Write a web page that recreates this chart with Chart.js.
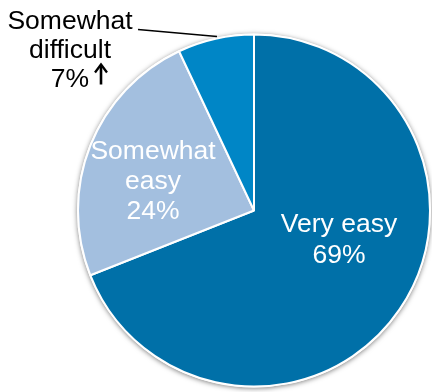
<!DOCTYPE html>
<html>
<head>
<meta charset="utf-8">
<script src="https://cdn.jsdelivr.net/npm/chart.js@4.4.1/dist/chart.umd.min.js"></script>
<style>
  html, body { margin: 0; padding: 0; background: #fff; }
  canvas { display: block; }
</style>
</head>
<body>
<canvas id="pie" width="432" height="392"></canvas>
<script>
// survey answers, clockwise from 12 o'clock
const categories = [['Very easy'], ['Somewhat', 'easy'], ['Somewhat', 'difficult']];
const shares = [69, 24, 7];
const colors = ['#0070a8', '#a3bfdf', '#0086c6'];

const FONT = '26.5px "Liberation Sans", Arial, sans-serif';

// soft drop shadow behind the whole pie
const pieShadow = {
  id: 'pieShadow',
  beforeDatasetsDraw(chart) {
    const arc = chart.getDatasetMeta(0).data[0];
    if (!arc) return;
    const ctx = chart.ctx;
    ctx.save();
    ctx.shadowColor = 'rgba(0,0,0,0.5)';
    ctx.shadowBlur = 5;
    ctx.shadowOffsetX = 0;
    ctx.shadowOffsetY = 1;
    ctx.fillStyle = '#fff';
    ctx.beginPath();
    ctx.arc(arc.x, arc.y, arc.outerRadius + 1, 0, Math.PI * 2);
    ctx.fill();
    ctx.restore();
  }
};

// slice labels: offset from pie centre, line height, colour
const labelSpots = [
  { dx: 85, dy: 14, lh: 31, color: '#fff' },
  { dx: -101, dy: -59, lh: 30, color: '#fff' },
  { dx: -184, dy: -189, lh: 29, color: '#000' }
];

const sliceLabels = {
  id: 'sliceLabels',
  afterDatasetsDraw(chart) {
    const meta = chart.getDatasetMeta(0);
    const ctx = chart.ctx;
    const cx = meta.data[0].x, cy = meta.data[0].y;
    ctx.save();
    ctx.font = FONT;
    ctx.textAlign = 'center';
    ctx.textBaseline = 'middle';
    shares.forEach((v, i) => {
      const s = labelSpots[i];
      const lines = categories[i].concat([v + '%']);
      ctx.fillStyle = s.color;
      lines.forEach((t, j) => {
        ctx.fillText(t, cx + s.dx, cy + s.dy + j * s.lh);
      });
    });

    // leader line for the small slice
    ctx.strokeStyle = '#000';
    ctx.lineWidth = 1.5;
    ctx.beginPath();
    ctx.moveTo(cx - 116, cy - 181);
    ctx.lineTo(cx - 37, cy - 174);
    ctx.stroke();

    // little up arrow next to 7%
    const ax = cx - 153, ay = cy - 147;
    ctx.lineWidth = 2.6;
    ctx.beginPath();
    ctx.moveTo(ax, ay + 21);
    ctx.lineTo(ax, ay + 2);
    ctx.stroke();
    ctx.lineWidth = 2.3;
    ctx.lineJoin = 'miter';
    ctx.beginPath();
    ctx.moveTo(ax - 6, ay + 9);
    ctx.lineTo(ax, ay + 1);
    ctx.lineTo(ax + 6, ay + 9);
    ctx.stroke();
    ctx.restore();
  }
};

new Chart(document.getElementById('pie'), {
  type: 'pie',
  data: {
    labels: categories,
    datasets: [{
      data: shares,
      backgroundColor: colors,
      borderColor: '#fff',
      borderWidth: 2,
      hoverOffset: 0,
      clip: false
    }]
  },
  options: {
    responsive: false,
    animation: false,
    radius: 176,
    layout: { padding: { left: 76, top: 29, right: 0, bottom: 0 } },
    plugins: {
      legend: { display: false },
      tooltip: { enabled: false }
    }
  },
  plugins: [pieShadow, sliceLabels]
});
</script>
</body>
</html>
